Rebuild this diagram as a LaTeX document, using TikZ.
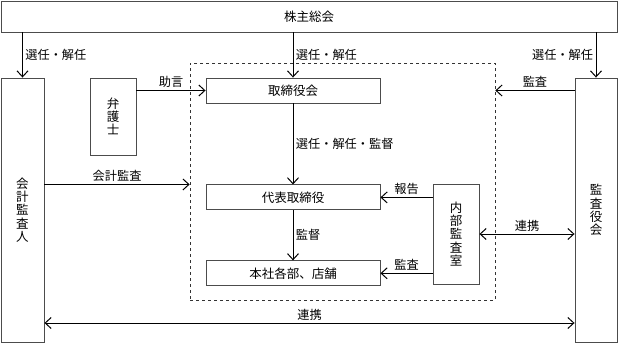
\documentclass[tikz,border=0pt]{standalone}
\usepackage{fontspec}
\setmainfont{Noto Sans CJK JP}
\usetikzlibrary{arrows.meta, positioning}

\begin{document}
\begin{tikzpicture}[
  x=1pt, y=-1pt,
  font=\fontsize{12.5}{13.2}\selectfont,
  unit/.style={rectangle, draw=black!70, line width=0.9pt, minimum width=#1,
               minimum height=25pt, inner sep=0pt},
  unit/.default=174pt,
  tall/.style={rectangle, draw=black!70, line width=0.9pt, align=center,
               inner sep=0pt},
  group/.style={rectangle, draw=black!80, dashed, line width=0.7pt, inner sep=0pt},
  flow/.style={black, line width=0.8pt,
               -{Straight Barb[length=6pt, width=11pt, line width=1pt]}},
  mutual/.style={black, line width=0.8pt,
               {Straight Barb[length=6pt, width=11pt, line width=1pt]}-{Straight Barb[length=6pt, width=11pt, line width=1pt]}},
  tag/.style={font=\fontsize{12.2}{13}\selectfont, inner sep=2.5pt},
]
  \useasboundingbox (0,0) rectangle (619,343);

  % ── outer bodies ──
  \node[unit=616pt, minimum height=31pt] (gm) at (309,16.5) {株主総会};
  \node[tall, minimum width=43pt, minimum height=264pt] (acct) at (22.5,210) {会\\計\\監\\査\\人};
  \node[tall, minimum width=42pt, minimum height=264pt] (kansa) at (596,210) {監\\査\\役\\会};
  \node[tall, minimum width=46pt, minimum height=77pt] (lawyer) at (113,116.5) {弁\\護\\士};

  % ── company ──
  \node[group, minimum width=305pt, minimum height=237pt] (inner) at (342.5,181.5) {};
  \node[unit] (bod) at (293,90.5) {取締役会};
  \node[unit, below=81pt of bod] (ceo) {代表取締役};
  \node[unit, below=50pt of ceo] (dept) {本社各部、店舗};
  \node[tall, minimum width=46pt, minimum height=100pt] (iaudit) at (456,234) {内\\部\\監\\査\\室};

  % ── appointments ──
  \draw[flow] (gm.south -| acct) -- node[tag, right] {選任・解任} (acct.north);
  \draw[flow] (gm.south -| bod) -- node[tag, right] {選任・解任} (bod.north);
  \draw[flow] (gm.south -| kansa) -- node[tag, left] {選任・解任} (kansa.north);
  \draw[flow] (bod.south) -- node[tag, right] {選任・解任・監督} (ceo.north);
  \draw[flow] (ceo.south) -- node[tag, right] {監督} (dept.north);

  % ── audits and reports ──
  \draw[flow] (lawyer.east |- bod) -- node[tag, above] {助言} (bod.west);
  \draw[flow] (kansa.west |- bod) -- node[tag, above] {監査} (inner.east |- bod);
  \draw[flow] (ceo.north -| acct.east) -- node[tag, above] {会計監査} (ceo.north -| inner.west);
  \draw[flow] (iaudit.west |- ceo) -- node[tag, above] {報告} (ceo.east);
  \draw[flow] (iaudit.west |- dept) -- node[tag, above] {監査} (dept.east);

  % ── cooperation ──
  \draw[mutual] (iaudit.east) -- node[tag, above] {連携} (kansa.west |- iaudit);
  \coordinate (base) at (310,323);
  \draw[mutual] (acct.east |- base) -- node[tag, above] {連携} (kansa.west |- base);
\end{tikzpicture}
\end{document}
